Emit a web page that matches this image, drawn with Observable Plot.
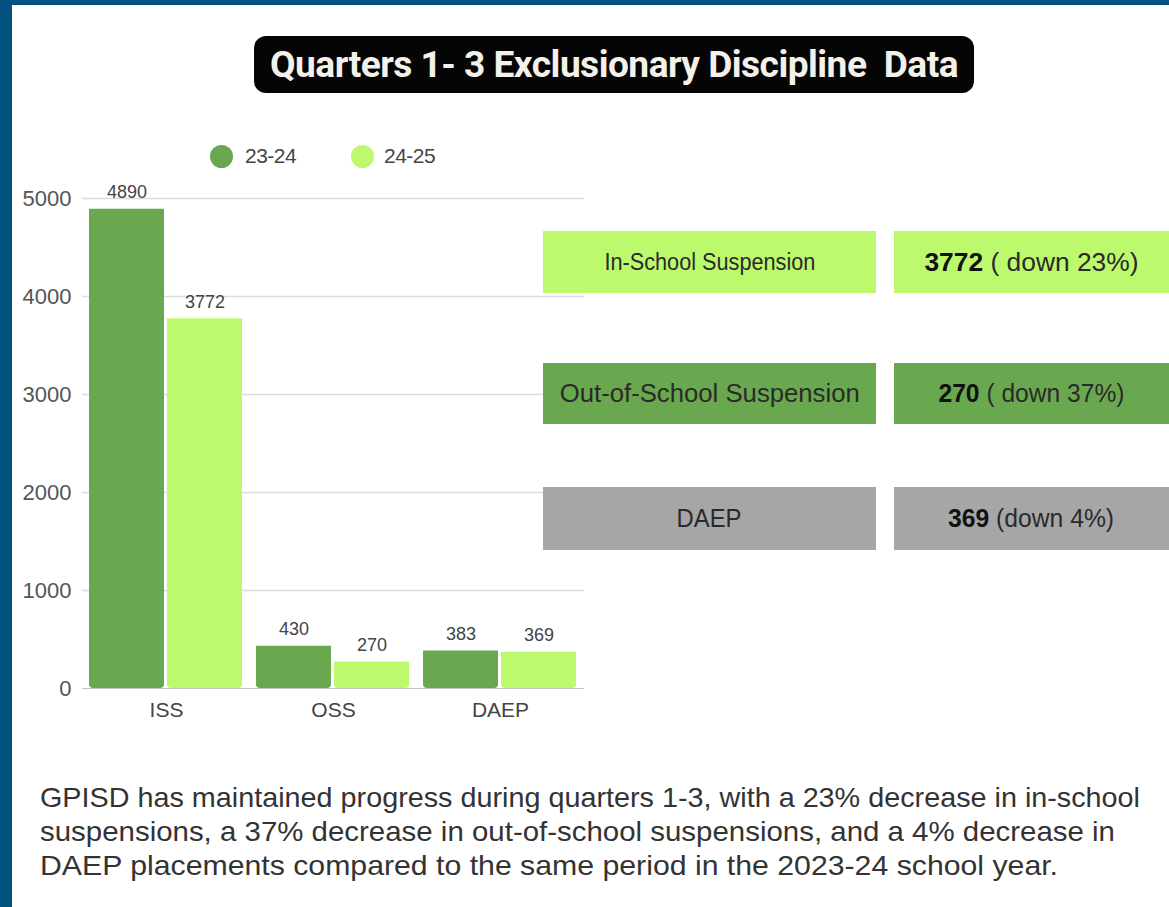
<!DOCTYPE html>
<html>
<head>
<meta charset="utf-8">
<script src="https://cdn.jsdelivr.net/npm/d3@7"></script>
<script src="https://cdn.jsdelivr.net/npm/@observablehq/plot@0.6"></script>
<style>
  html, body { margin: 0; padding: 0; background: #fff; }
  #page { position: relative; width: 1169px; height: 907px; overflow: hidden; background: #fff;
          font-family: "Liberation Sans", Arial, sans-serif; color: #333; }
  .border-top { position: absolute; left: 0; top: 0; width: 1169px; height: 5px; background: #02517f; }
  .border-left { position: absolute; left: 0; top: 0; width: 12px; height: 907px; background: #02517f; }
  #title { position: absolute; left: 254px; top: 36px; width: 720px; height: 57px; background: #050505;
           border-radius: 12px; display: flex; align-items: center; justify-content: center; }
  #title span { display: inline-block; white-space: pre; font-family: Roboto, "Liberation Sans", sans-serif;
                font-weight: 700; font-size: 36px; letter-spacing: -0.5px; color: #f4f0ea; transform-origin: center center; }
  #legend { position: absolute; left: 0; top: 0; }
  .leg-dot { position: absolute; width: 23px; height: 23px; border-radius: 50%; }
  .leg-txt { position: absolute; font-size: 21px; color: #444; line-height: 24px; white-space: nowrap; letter-spacing: -0.5px; }
  #chart { position: absolute; left: 0; top: 170px; }
  .box { position: absolute; display: flex; align-items: center; justify-content: center; white-space: pre; color: #2a2a2a; }
  .para { position: absolute; left: 40px; white-space: nowrap; font-size: 28px; color: #333; line-height: 34px; transform-origin: left center; }
</style>
</head>
<body>
<div id="page">
  <div class="border-top"></div>
  <div class="border-left"></div>
  <div id="title"><span id="titleText"></span></div>
  <div id="legend"></div>
  <div id="chart"></div>
  <div id="boxes"></div>
  <div id="paragraph"></div>
</div>
<script>
// ---------------- data ----------------
const titleText = "Quarters 1- 3 Exclusionary Discipline  Data";
const categories = ["ISS", "OSS", "DAEP"];
const years = ["23-24", "24-25"];
const values2324 = [4890, 430, 383];
const values2425 = [3772, 270, 369];
const yTicks = [0, 1000, 2000, 3000, 4000, 5000];
const summaryLabels = ["In-School Suspension", "Out-of-School Suspension", "DAEP"];
const summaryValues = [3772, 270, 369];
const summaryChanges = [" ( down 23%)", " ( down 37%)", " (down 4%)"];
const paragraphLines = [
  "GPISD has maintained progress during quarters 1-3, with a 23% decrease in in-school",
  "suspensions, a 37% decrease in out-of-school suspensions, and a 4% decrease in",
  "DAEP placements compared to the same period in the 2023-24 school year."
];

// ---------------- styles / layout ----------------
const yearColors = ["#6aa84f", "#bdf96c"];
const boxColors = ["#bdf96c", "#6aa84f", "#a6a6a6"];
const boxLayout = [
  { top: 231, height: 62, labelSize: 23, valueSize: 25, labelW: 211, valueW: 214 },
  { top: 363, height: 61, labelSize: 26, valueSize: 25, labelW: 300, valueW: 186 },
  { top: 487, height: 63, labelSize: 25, valueSize: 25, labelW: 65, valueW: 166 }
];
const paraTops = [781, 815, 849];
const paraWidths = [1100, 1075, 1018];

function fitWidth(el, target) {
  const w = el.getBoundingClientRect().width;
  if (w > 0) el.style.transform = `scaleX(${target / w})`;
}

// title
const t = document.getElementById("titleText");
t.textContent = titleText;
fitWidth(t, 688);

// legend
const legend = document.getElementById("legend");
const legendPos = [{ dot: 210, txt: 245 }, { dot: 351, txt: 384 }];
years.forEach((y, i) => {
  const d = document.createElement("div");
  d.className = "leg-dot";
  d.style.left = legendPos[i].dot + "px";
  d.style.top = "145px";
  d.style.background = yearColors[i];
  legend.appendChild(d);
  const s = document.createElement("div");
  s.className = "leg-txt";
  s.style.left = legendPos[i].txt + "px";
  s.style.top = "144px";
  s.textContent = y;
  legend.appendChild(s);
});

// chart
const data = categories.flatMap((c, i) => [
  { category: c, year: years[0], value: values2324[i] },
  { category: c, year: years[1], value: values2425[i] }
]);

const chart = Plot.plot({
  width: 590,
  height: 560,
  marginLeft: 88,
  marginRight: 13,
  marginTop: 28,
  marginBottom: 42,
  style: { fontFamily: "'Liberation Sans', Arial, sans-serif", color: "#555", background: "transparent", overflow: "visible" },
  fx: { domain: categories, paddingInner: 0.08, paddingOuter: 0, label: null, axis: null },
  x: { domain: years, paddingInner: 0.035, paddingOuter: 0, axis: null },
  y: { domain: [0, 5000], label: null, axis: null },
  color: { domain: years, range: yearColors },
  marks: [
    Plot.ruleY(yTicks.filter(d => d > 0), { stroke: "#dcdcdc", strokeWidth: 1.3, insetLeft: -7, insetRight: -7 }),
    Plot.barY(data, { fx: "category", x: "year", y: "value", fill: "year", ry2: 4 }),
    Plot.ruleY([0], { stroke: "#c4c4c4", strokeWidth: 1.2, insetLeft: -7, insetRight: -7 }),
    Plot.text(data, { fx: "category", x: "year", y: "value", text: d => String(d.value), dy: -17, fontSize: 18, fill: "#444", letterSpacing: -0.5 }),
    Plot.axisY({ ticks: yTicks, tickFormat: d => String(d), tickSize: 0, tickPadding: 18, fontSize: 22, fill: "#555", label: null }),
    Plot.axisFx({ anchor: "bottom", tickSize: 0, tickPadding: 14, fontSize: 21, fill: "#444", label: null })
  ]
});
document.getElementById("chart").appendChild(chart);

// summary boxes
const boxes = document.getElementById("boxes");
summaryLabels.forEach((lab, i) => {
  const L = boxLayout[i];
  const b1 = document.createElement("div");
  b1.className = "box";
  Object.assign(b1.style, { left: "543px", top: L.top + "px", width: "333px", height: L.height + "px", background: boxColors[i] });
  const s1 = document.createElement("span");
  s1.style.fontSize = L.labelSize + "px";
  s1.style.display = "inline-block";
  s1.textContent = lab;
  b1.appendChild(s1);
  boxes.appendChild(b1);

  const b2 = document.createElement("div");
  b2.className = "box";
  Object.assign(b2.style, { left: "894px", top: L.top + "px", width: "275px", height: L.height + "px", background: boxColors[i] });
  const s2 = document.createElement("span");
  s2.style.fontSize = L.valueSize + "px";
  s2.style.display = "inline-block";
  const strong = document.createElement("b");
  strong.textContent = String(summaryValues[i]);
  strong.style.color = "#111";
  s2.appendChild(strong);
  s2.appendChild(document.createTextNode(summaryChanges[i]));
  b2.appendChild(s2);
  boxes.appendChild(b2);

  fitWidth(s1, L.labelW);
  fitWidth(s2, L.valueW);
});

// paragraph
const para = document.getElementById("paragraph");
paragraphLines.forEach((line, i) => {
  const p = document.createElement("div");
  p.className = "para";
  p.style.top = paraTops[i] + "px";
  p.textContent = line;
  para.appendChild(p);
  fitWidth(p, paraWidths[i]);
});
</script>
</body>
</html>
